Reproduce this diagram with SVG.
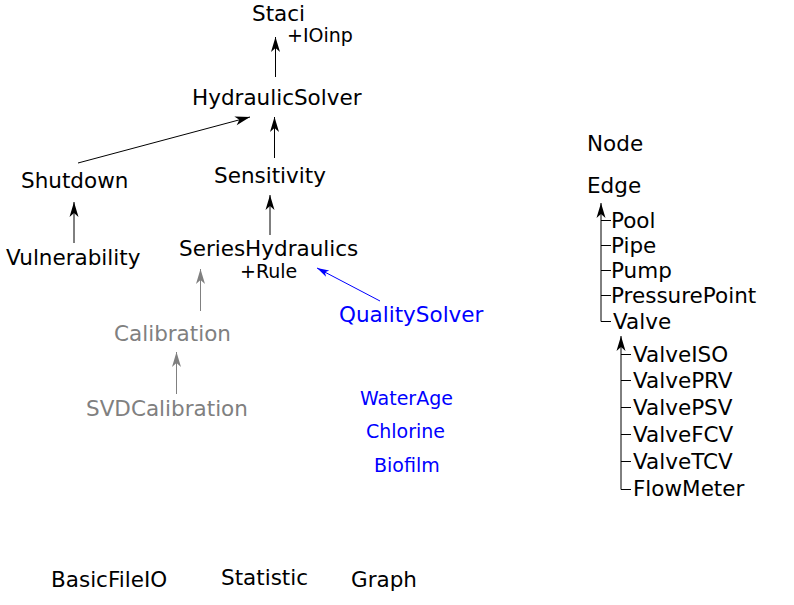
<svg xmlns="http://www.w3.org/2000/svg" width="794" height="605" viewBox="0 0 794 605">
<defs>
<marker id="ah" markerUnits="userSpaceOnUse" markerWidth="20" markerHeight="12" viewBox="-16 -6 20 12" refX="0" refY="0" orient="auto">
<path d="M0,0 L-15,-4.5 L-11,0 L-15,4.5 Z" fill="#000"/>
</marker>
<marker id="ahg" markerUnits="userSpaceOnUse" markerWidth="20" markerHeight="12" viewBox="-16 -6 20 12" refX="0" refY="0" orient="auto">
<path d="M0,0 L-15,-4.5 L-11,0 L-15,4.5 Z" fill="#808080"/>
</marker>
<marker id="ahb" markerUnits="userSpaceOnUse" markerWidth="20" markerHeight="12" viewBox="-16 -6 20 12" refX="0" refY="0" orient="auto">
<path d="M0,0 L-12,-3.5 L-9,0 L-12,3.5 Z" fill="#0000ff"/>
</marker>
</defs>
<style>
text{font-family:"DejaVu Sans",Verdana,sans-serif;font-size:21.5px;fill:#000}
.s{font-size:19px}
.g{fill:#808080}
.b{fill:#0000ff}
.c{stroke:#000;stroke-width:1;fill:none}
.cg{stroke:#808080;stroke-width:1;fill:none}
.cb{stroke:#0000ff;stroke-width:1;fill:none}
</style>
<g id="connectors">
<line class="c" x1="275.5" y1="77" x2="275.5" y2="37" marker-end="url(#ah)"/>
<line class="c" x1="274.5" y1="158" x2="274.5" y2="117" marker-end="url(#ah)"/>
<line class="c" x1="78" y1="163" x2="250" y2="117" marker-end="url(#ah)"/>
<line class="c" x1="270" y1="235" x2="270" y2="195" marker-end="url(#ah)"/>
<line class="c" x1="74" y1="243" x2="74" y2="202" marker-end="url(#ah)"/>
<line class="cb" x1="380" y1="301" x2="317" y2="268" marker-end="url(#ahb)"/>
<line class="cg" x1="200.5" y1="311" x2="200.5" y2="269" marker-end="url(#ahg)"/>
<line class="cg" x1="176.5" y1="394" x2="176.5" y2="352" marker-end="url(#ahg)"/>
<line class="c" x1="601" y1="321.5" x2="601" y2="203" marker-end="url(#ah)"/>
<path class="c" d="M601 220.5H611M601 245.5H611M601 270.5H611M601 295.5H611M601 321.5H611"/>
<line class="c" x1="621" y1="489.5" x2="621" y2="336" marker-end="url(#ah)"/>
<path class="c" d="M621 354.5H631M621 380.5H631M621 407.5H631M621 434.5H631M621 461.5H631M621 489.5H631"/>
</g>
<g id="staci"><text x="252" y="21">Staci</text><text class="s" x="287" y="42">+IOinp</text></g>
<g id="hydraulicsolver"><text x="192" y="105">HydraulicSolver</text></g>
<g id="shutdown"><text x="21" y="188">Shutdown</text></g>
<g id="sensitivity"><text x="214" y="183">Sensitivity</text></g>
<g id="vulnerability"><text x="6" y="265">Vulnerability</text></g>
<g id="serieshydraulics"><text x="179" y="256">SeriesHydraulics</text><text class="s" x="240" y="278">+Rule</text></g>
<g id="qualitysolver"><text class="b" x="339" y="322">QualitySolver</text></g>
<g id="calibration"><text class="g" x="114" y="341">Calibration</text></g>
<g id="svdcalibration"><text class="g" x="86" y="416">SVDCalibration</text></g>
<g id="waterage"><text class="s b" x="360" y="405">WaterAge</text></g>
<g id="chlorine"><text class="s b" x="366" y="438">Chlorine</text></g>
<g id="biofilm"><text class="s b" x="374" y="472">Biofilm</text></g>
<g id="node"><text x="587" y="151">Node</text></g>
<g id="edge"><text x="587" y="193">Edge</text></g>
<g id="pool"><text x="611" y="228">Pool</text></g>
<g id="pipe"><text x="611" y="253">Pipe</text></g>
<g id="pump"><text x="611" y="278">Pump</text></g>
<g id="pressurepoint"><text x="611" y="303">PressurePoint</text></g>
<g id="valve"><text x="613" y="329">Valve</text></g>
<g id="valveiso"><text x="633" y="362">ValveISO</text></g>
<g id="valveprv"><text x="633" y="388">ValvePRV</text></g>
<g id="valvepsv"><text x="633" y="415">ValvePSV</text></g>
<g id="valvefcv"><text x="633" y="442">ValveFCV</text></g>
<g id="valvetcv"><text x="633" y="469">ValveTCV</text></g>
<g id="flowmeter"><text x="633" y="496">FlowMeter</text></g>
<g id="basicfileio"><text x="51" y="587">BasicFileIO</text></g>
<g id="statistic"><text x="221" y="585">Statistic</text></g>
<g id="graph"><text x="351" y="587">Graph</text></g>
</svg>
